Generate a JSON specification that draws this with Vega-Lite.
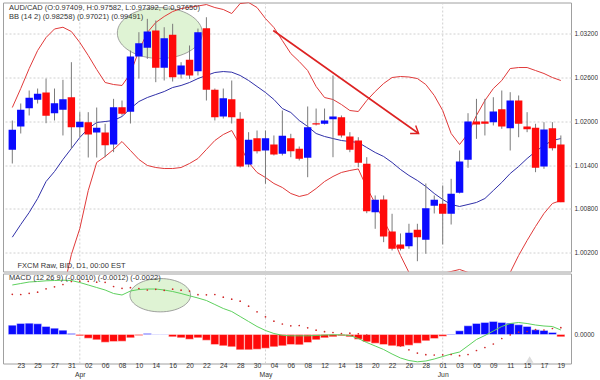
{
"$schema": "https://vega.github.io/schema/vega-lite/v6.json",
"padding": {"left": 2, "top": 1.5, "right": 0, "bottom": 0},
"background": "white",
"spacing": 0,
"config": {
  "view": {"stroke": "#a0a0a0", "strokeWidth": 1},
  "font": "Liberation Sans",
  "axis": {"domain": false, "ticks": false, "labelFont": "Liberation Sans", "labelColor": "#333333", "gridColor": "#d0d0d0", "gridDash": [2, 2], "gridWidth": 1}
},
"datasets": {
"k": [
{"i":0,"o":1.01611,"h":1.02012,"l":1.01423,"c":1.01885,"ub":1.02190,"mb":1.00413,"lb":0.98642,"macd":0.00495,"sig":0.00402,"hist":0.00093},
{"i":1,"o":1.01930,"h":1.02245,"l":1.01834,"c":1.02159,"ub":1.02450,"mb":1.00587,"lb":0.98724,"macd":0.00510,"sig":0.00400,"hist":0.00110},
{"i":2,"o":1.02181,"h":1.02423,"l":1.02081,"c":1.02323,"ub":1.02724,"mb":1.00752,"lb":0.98779,"macd":0.00525,"sig":0.00412,"hist":0.00113},
{"i":3,"o":1.02296,"h":1.02450,"l":1.02245,"c":1.02378,"ub":1.02971,"mb":1.00943,"lb":0.98916,"macd":0.00530,"sig":0.00423,"hist":0.00107},
{"i":4,"o":1.02396,"h":1.02587,"l":1.01975,"c":1.02076,"ub":1.03149,"mb":1.01176,"lb":0.99204,"macd":0.00537,"sig":0.00457,"hist":0.00080},
{"i":5,"o":1.02112,"h":1.02450,"l":1.02012,"c":1.02249,"ub":1.03266,"mb":1.01313,"lb":0.99368,"macd":0.00540,"sig":0.00477,"hist":0.00063},
{"i":6,"o":1.02159,"h":1.02570,"l":1.01807,"c":1.02304,"ub":1.03290,"mb":1.01478,"lb":0.99669,"macd":0.00543,"sig":0.00500,"hist":0.00043},
{"i":7,"o":1.02331,"h":1.02811,"l":1.01624,"c":1.01920,"ub":1.03231,"mb":1.01628,"lb":1.00176,"macd":0.00540,"sig":0.00530,"hist":0.00010},
{"i":8,"o":1.01920,"h":1.02126,"l":1.01783,"c":1.01994,"ub":1.03081,"mb":1.01779,"lb":1.00532,"macd":0.00520,"sig":0.00533,"hist":-0.00013},
{"i":9,"o":1.01989,"h":1.02126,"l":1.01505,"c":1.01820,"ub":1.02903,"mb":1.01902,"lb":1.01053,"macd":0.00495,"sig":0.00532,"hist":-0.00037},
{"i":10,"o":1.01848,"h":1.02190,"l":1.01505,"c":1.01912,"ub":1.02711,"mb":1.01985,"lb":1.01437,"macd":0.00470,"sig":0.00523,"hist":-0.00053},
{"i":11,"o":1.01848,"h":1.01967,"l":1.01509,"c":1.01674,"ub":1.02533,"mb":1.01998,"lb":1.01519,"macd":0.00445,"sig":0.00522,"hist":-0.00077},
{"i":12,"o":1.01683,"h":1.02309,"l":1.01578,"c":1.02194,"ub":1.02505,"mb":1.02012,"lb":1.01615,"macd":0.00410,"sig":0.00480,"hist":-0.00070},
{"i":13,"o":1.02194,"h":1.02286,"l":1.02081,"c":1.02104,"ub":1.02492,"mb":1.02067,"lb":1.01724,"macd":0.00395,"sig":0.00462,"hist":-0.00067},
{"i":14,"o":1.02131,"h":1.02971,"l":1.01971,"c":1.02889,"ub":1.02656,"mb":1.02176,"lb":1.01601,"macd":0.00435,"sig":0.00468,"hist":-0.00033},
{"i":15,"o":1.02889,"h":1.03222,"l":1.02587,"c":1.03071,"ub":1.02971,"mb":1.02272,"lb":1.01478,"macd":0.00450,"sig":0.00460,"hist":-0.00010},
{"i":16,"o":1.03008,"h":1.03405,"l":1.02857,"c":1.03231,"ub":1.03218,"mb":1.02327,"lb":1.01396,"macd":0.00455,"sig":0.00445,"hist":0.00010},
{"i":17,"o":1.03245,"h":1.03382,"l":1.02537,"c":1.02734,"ub":1.03355,"mb":1.02368,"lb":1.01368,"macd":0.00455,"sig":0.00452,"hist":0.00003},
{"i":18,"o":1.02734,"h":1.03290,"l":1.02560,"c":1.03140,"ub":1.03437,"mb":1.02409,"lb":1.01354,"macd":0.00445,"sig":0.00442,"hist":0.00003},
{"i":19,"o":1.03186,"h":1.03337,"l":1.02546,"c":1.02605,"ub":1.03505,"mb":1.02464,"lb":1.01354,"macd":0.00430,"sig":0.00453,"hist":-0.00023},
{"i":20,"o":1.02642,"h":1.02811,"l":1.02587,"c":1.02766,"ub":1.03546,"mb":1.02492,"lb":1.01368,"macd":0.00410,"sig":0.00443,"hist":-0.00033},
{"i":21,"o":1.02844,"h":1.03040,"l":1.02583,"c":1.02629,"ub":1.03564,"mb":1.02533,"lb":1.01423,"macd":0.00387,"sig":0.00434,"hist":-0.00047},
{"i":22,"o":1.02687,"h":1.03272,"l":1.02629,"c":1.03222,"ub":1.03581,"mb":1.02587,"lb":1.01491,"macd":0.00365,"sig":0.00398,"hist":-0.00033},
{"i":23,"o":1.03277,"h":1.03427,"l":1.02286,"c":1.02433,"ub":1.03601,"mb":1.02629,"lb":1.01615,"macd":0.00340,"sig":0.00397,"hist":-0.00057},
{"i":24,"o":1.02433,"h":1.02450,"l":1.02012,"c":1.02057,"ub":1.03560,"mb":1.02670,"lb":1.01738,"macd":0.00300,"sig":0.00400,"hist":-0.00100},
{"i":25,"o":1.02067,"h":1.02450,"l":1.02039,"c":1.02318,"ub":1.03533,"mb":1.02683,"lb":1.01820,"macd":0.00260,"sig":0.00373,"hist":-0.00113},
{"i":26,"o":1.02304,"h":1.02560,"l":1.01971,"c":1.02057,"ub":1.03478,"mb":1.02674,"lb":1.01875,"macd":0.00230,"sig":0.00353,"hist":-0.00123},
{"i":27,"o":1.02035,"h":1.02126,"l":1.01368,"c":1.01382,"ub":1.03615,"mb":1.02629,"lb":1.01670,"macd":0.00180,"sig":0.00333,"hist":-0.00153},
{"i":28,"o":1.01409,"h":1.01852,"l":1.01372,"c":1.01748,"ub":1.03629,"mb":1.02560,"lb":1.01437,"macd":0.00130,"sig":0.00283,"hist":-0.00153},
{"i":29,"o":1.01770,"h":1.01875,"l":1.01560,"c":1.01591,"ub":1.03560,"mb":1.02478,"lb":1.01300,"macd":0.00080,"sig":0.00227,"hist":-0.00147},
{"i":30,"o":1.01601,"h":1.01875,"l":1.01145,"c":1.01770,"ub":1.03409,"mb":1.02396,"lb":1.01231,"macd":0.00040,"sig":0.00177,"hist":-0.00137},
{"i":31,"o":1.01683,"h":1.01807,"l":1.01533,"c":1.01546,"ub":1.03286,"mb":1.02300,"lb":1.01149,"macd":0.00010,"sig":0.00133,"hist":-0.00123},
{"i":32,"o":1.01556,"h":1.02149,"l":1.01533,"c":1.01802,"ub":1.03108,"mb":1.02176,"lb":1.01094,"macd":-0.00008,"sig":0.00105,"hist":-0.00113},
{"i":33,"o":1.01770,"h":1.01830,"l":1.01509,"c":1.01591,"ub":1.02930,"mb":1.02122,"lb":1.01012,"macd":-0.00013,"sig":0.00087,"hist":-0.00100},
{"i":34,"o":1.01624,"h":1.01656,"l":1.01464,"c":1.01487,"ub":1.02820,"mb":1.02012,"lb":1.00971,"macd":-0.00013,"sig":0.00090,"hist":-0.00103},
{"i":35,"o":1.01501,"h":1.02204,"l":1.01235,"c":1.01920,"ub":1.02697,"mb":1.01930,"lb":1.00998,"macd":-0.00013,"sig":0.00067,"hist":-0.00080},
{"i":36,"o":1.01975,"h":1.02176,"l":1.01944,"c":1.01957,"ub":1.02478,"mb":1.01834,"lb":1.01080,"macd":-0.00010,"sig":0.00043,"hist":-0.00053},
{"i":37,"o":1.01967,"h":1.02176,"l":1.01957,"c":1.02012,"ub":1.02327,"mb":1.01793,"lb":1.01176,"macd":-0.00005,"sig":0.00028,"hist":-0.00033},
{"i":38,"o":1.02030,"h":1.02629,"l":1.01509,"c":1.02067,"ub":1.02300,"mb":1.01765,"lb":1.01245,"macd":-0.00003,"sig":0.00020,"hist":-0.00023},
{"i":39,"o":1.02057,"h":1.02081,"l":1.01779,"c":1.01807,"ub":1.02231,"mb":1.01738,"lb":1.01300,"macd":-0.00003,"sig":0.00010,"hist":-0.00013},
{"i":40,"o":1.01793,"h":1.01852,"l":1.01578,"c":1.01611,"ub":1.02149,"mb":1.01724,"lb":1.01327,"macd":-0.00010,"sig":0.00013,"hist":-0.00023},
{"i":41,"o":1.01738,"h":1.01783,"l":1.01372,"c":1.01433,"ub":1.02135,"mb":1.01711,"lb":1.01348,"macd":-0.00040,"sig":0.00007,"hist":-0.00047},
{"i":42,"o":1.01419,"h":1.01509,"l":1.00742,"c":1.00769,"ub":1.02286,"mb":1.01642,"lb":1.01094,"macd":-0.00080,"sig":-0.00007,"hist":-0.00073},
{"i":43,"o":1.00756,"h":1.00985,"l":1.00528,"c":1.00926,"ub":1.02409,"mb":1.01574,"lb":1.00875,"macd":-0.00115,"sig":-0.00028,"hist":-0.00087},
{"i":44,"o":1.00930,"h":1.00985,"l":1.00345,"c":1.00423,"ub":1.02519,"mb":1.01519,"lb":1.00642,"macd":-0.00150,"sig":-0.00050,"hist":-0.00100},
{"i":45,"o":1.00491,"h":1.00734,"l":1.00231,"c":1.00254,"ub":1.02601,"mb":1.01437,"lb":1.00423,"macd":-0.00195,"sig":-0.00082,"hist":-0.00113},
{"i":46,"o":1.00313,"h":1.00464,"l":1.00231,"c":1.00254,"ub":1.02615,"mb":1.01341,"lb":1.00163,"macd":-0.00235,"sig":-0.00115,"hist":-0.00120},
{"i":47,"o":1.00290,"h":1.00597,"l":1.00254,"c":1.00474,"ub":1.02608,"mb":1.01259,"lb":0.99930,"macd":-0.00260,"sig":-0.00153,"hist":-0.00107},
{"i":48,"o":1.00515,"h":1.00597,"l":1.00084,"c":1.00413,"ub":1.02587,"mb":1.01190,"lb":0.99847,"macd":-0.00273,"sig":-0.00186,"hist":-0.00087},
{"i":49,"o":1.00378,"h":1.01149,"l":1.00186,"c":1.00811,"ub":1.02505,"mb":1.01108,"lb":0.99820,"macd":-0.00265,"sig":-0.00202,"hist":-0.00063},
{"i":50,"o":1.00843,"h":1.00985,"l":1.00738,"c":1.00926,"ub":1.02355,"mb":1.01012,"lb":0.99875,"macd":-0.00245,"sig":-0.00205,"hist":-0.00040},
{"i":51,"o":1.00871,"h":1.01122,"l":1.00313,"c":1.00734,"ub":1.02149,"mb":1.00930,"lb":0.99916,"macd":-0.00220,"sig":-0.00203,"hist":-0.00017},
{"i":52,"o":1.00734,"h":1.01213,"l":1.00587,"c":1.01008,"ub":1.01834,"mb":1.00861,"lb":0.99943,"macd":-0.00195,"sig":-0.00200,"hist":0.00005},
{"i":53,"o":1.01022,"h":1.01601,"l":1.01012,"c":1.01450,"ub":1.01683,"mb":1.00834,"lb":0.99971,"macd":-0.00175,"sig":-0.00212,"hist":0.00037},
{"i":54,"o":1.01474,"h":1.02112,"l":1.01364,"c":1.01998,"ub":1.01834,"mb":1.00861,"lb":0.99930,"macd":-0.00113,"sig":-0.00200,"hist":0.00087},
{"i":55,"o":1.01998,"h":1.02309,"l":1.01761,"c":1.01957,"ub":1.02081,"mb":1.00889,"lb":0.99847,"macd":-0.00050,"sig":-0.00160,"hist":0.00110},
{"i":56,"o":1.01998,"h":1.02309,"l":1.01807,"c":1.01967,"ub":1.02286,"mb":1.00943,"lb":0.99752,"macd":-0.00010,"sig":-0.00130,"hist":0.00120},
{"i":57,"o":1.01989,"h":1.02331,"l":1.01944,"c":1.02135,"ub":1.02450,"mb":1.01053,"lb":0.99683,"macd":0.00035,"sig":-0.00095,"hist":0.00130},
{"i":58,"o":1.02167,"h":1.02423,"l":1.01898,"c":1.01930,"ub":1.02560,"mb":1.01163,"lb":0.99752,"macd":0.00080,"sig":-0.00040,"hist":0.00120},
{"i":59,"o":1.01907,"h":1.02400,"l":1.01601,"c":1.02286,"ub":1.02724,"mb":1.01286,"lb":0.99930,"macd":0.00110,"sig":-0.00003,"hist":0.00113},
{"i":60,"o":1.02286,"h":1.02355,"l":1.01783,"c":1.01967,"ub":1.02738,"mb":1.01382,"lb":1.00163,"macd":0.00120,"sig":0.00023,"hist":0.00097},
{"i":61,"o":1.01930,"h":1.02126,"l":1.01852,"c":1.01893,"ub":1.02738,"mb":1.01491,"lb":1.00368,"macd":0.00110,"sig":0.00030,"hist":0.00080},
{"i":62,"o":1.01912,"h":1.01967,"l":1.01304,"c":1.01364,"ub":1.02697,"mb":1.01587,"lb":1.00560,"macd":0.00095,"sig":0.00048,"hist":0.00047},
{"i":63,"o":1.01382,"h":1.01989,"l":1.01350,"c":1.01889,"ub":1.02656,"mb":1.01670,"lb":1.00738,"macd":0.00085,"sig":0.00045,"hist":0.00040},
{"i":64,"o":1.01907,"h":1.01989,"l":1.01601,"c":1.01633,"ub":1.02601,"mb":1.01738,"lb":1.00875,"macd":0.00080,"sig":0.00060,"hist":0.00020},
{"i":65,"o":1.01683,"h":1.01807,"l":1.00893,"c":1.00893,"ub":1.02560,"mb":1.01765,"lb":1.00916,"macd":0.00045,"sig":0.00068,"hist":-0.00023}
],
"months": [{"i": 8}, {"i": 30}, {"i": 51}],
"mainText": [
{"i": -0.39, "p": 1.03560, "t": "AUD/CAD (O:0.97409, H:0.97582, L:0.97392, C:0.97650)"},
{"i": -0.39, "p": 1.03430, "t": "BB (14 2) (0.98258) (0.97021) (0.99491)"},
{"i": 0.62, "p": 1.00016, "t": "FXCM Raw, BID, D1, 00:00 EST"}
],
"arrow": [{"i": 30.92, "p": 1.03245, "i2": 48.15, "p2": 1.01834}]
},
"vconcat": [
{
"width": 568, "height": 269,
"encoding": {"x": {"field": "i", "type": "quantitative", "scale": {"domain": [-0.51, 65.61], "nice": false, "zero": false}, "axis": null}},
"layer": [
{"data": {"name": "months"}, "mark": {"type": "rule", "color": "#d0d0d0", "strokeDash": [2, 2], "strokeWidth": 1}, "encoding": {}},
{"data": {"values": [{"i": 17.48, "p": 1.03211}]}, "mark": {"type": "point", "shape": "M-1,0A1,0.6,0,1,0,1,0A1,0.6,0,1,0,-1,0Z", "size": 7225, "filled": true, "fill": "#dff3d4", "stroke": "#8c8c8c", "strokeWidth": 0.8, "opacity": 1},
 "encoding": {"y": {"field": "p", "type": "quantitative", "title": null, "scale": {"domain": [0.99943, 1.03629], "nice": false, "zero": false}, "axis": {"orient": "right", "values": [1.002, 1.008, 1.014, 1.020, 1.026, 1.032], "format": ".5f", "grid": true, "labelFontSize": 6.5, "labelPadding": 3}}}},
{"data": {"name": "k"}, "mark": {"type": "line", "color": "#e03a3a", "strokeWidth": 1, "clip": true}, "encoding": {"y": {"field": "ub", "type": "quantitative", "title": null}}},
{"data": {"name": "k"}, "mark": {"type": "line", "color": "#e03a3a", "strokeWidth": 1, "clip": true}, "encoding": {"y": {"field": "lb", "type": "quantitative", "title": null}}},
{"data": {"name": "k"}, "mark": {"type": "line", "color": "#3030a8", "strokeWidth": 1, "clip": true}, "encoding": {"y": {"field": "mb", "type": "quantitative", "title": null}}},
{"data": {"name": "k"}, "mark": {"type": "rule", "color": "#7a7a7a", "strokeWidth": 1, "clip": true}, "encoding": {"y": {"field": "l", "type": "quantitative", "title": null}, "y2": {"field": "h"}}},
{"data": {"name": "k"}, "mark": {"type": "bar", "size": 7.4, "orient": "vertical", "clip": true}, "encoding": {"y": {"field": "o", "type": "quantitative", "title": null}, "y2": {"field": "c"}, "color": {"condition": {"test": "datum.c > datum.o", "value": "#0a0aff"}, "value": "#ff0a0a"}}},
{"data": {"name": "arrow"}, "mark": {"type": "rule", "color": "#dd2222", "strokeWidth": 1.6}, "encoding": {"y": {"field": "p", "type": "quantitative", "title": null}, "x2": {"field": "i2"}, "y2": {"field": "p2"}}},
{"data": {"name": "arrow"}, "mark": {"type": "point", "shape": "M-1,-0.7L0,0L-1,0.7", "size": 196, "filled": false, "stroke": "#dd2222", "strokeWidth": 1.4, "angle": 34.8, "opacity": 1}, "encoding": {"x": {"field": "i2", "type": "quantitative"}, "y": {"field": "p2", "type": "quantitative", "title": null}}},
{"data": {"name": "mainText"}, "mark": {"type": "text", "align": "left", "baseline": "middle", "fontSize": 7.5, "color": "#333333"}, "encoding": {"y": {"field": "p", "type": "quantitative", "title": null}, "text": {"field": "t"}}}
]
},
{
"width": 568, "height": 90,
"encoding": {"x": {"field": "i", "type": "quantitative", "scale": {"domain": [-0.51, 65.61], "nice": false, "zero": false},
  "axis": {"orient": "bottom", "values": [1,3,5,7,9,11,13,15,17,19,21,23,25,27,29,31,33,35,37,39,41,43,45,47,49,51,53,55,57,59,61,63,65,8,30], "grid": false, "labelOverlap": false, "labelFlush": false, "labelFontSize": 6.8, "labelPadding": -1, "labelLineHeight": 8.5, "labelBaseline": "top",
  "labelExpr": "datum.value == 8 ? ['', 'Apr'] : datum.value == 30 ? ['', 'May'] : datum.value == 51 ? ['01', 'Jun'] : ['20','23','24','25','26','27','30','31','01','02','03','06','07','08','09','10','13','14','15','16','17','20','21','22','23','24','27','28','29','30','01','04','05','06','07','08','11','12','13','14','15','18','19','20','21','22','25','26','27','28','29','01','02','03','04','05','08','09','10','11','12','15','16','17','18','19'][datum.value]"}}},
"layer": [
{"data": {"name": "months"}, "mark": {"type": "rule", "color": "#d0d0d0", "strokeDash": [2, 2], "strokeWidth": 1}, "encoding": {}},
{"data": {"values": [{"i": 17.53, "v": 0.00393}]}, "mark": {"type": "point", "shape": "M-1,0A1,0.55,0,1,0,1,0A1,0.55,0,1,0,-1,0Z", "size": 3672, "filled": true, "fill": "#dff3d4", "stroke": "#8c8c8c", "strokeWidth": 0.8, "opacity": 1},
 "encoding": {"y": {"field": "v", "type": "quantitative", "title": null, "scale": {"domain": [-0.0029, 0.0061], "nice": false, "zero": false}, "axis": {"orient": "right", "values": [0], "format": ".4f", "grid": false, "labelFontSize": 6.5, "labelPadding": 3}}}},
{"data": {"values": [{"i": 61.3, "v": -0.0025}]}, "mark": {"type": "point", "shape": "triangle-up", "size": 60, "filled": true, "color": "#dcdcdc", "opacity": 1}, "encoding": {"y": {"field": "v", "type": "quantitative", "title": null}}},
{"data": {"name": "k"}, "mark": {"type": "bar", "size": 8, "orient": "vertical", "clip": true, "stroke": "#ffffff", "strokeWidth": 0.4}, "encoding": {"y": {"field": "hist", "type": "quantitative", "title": null}, "y2": {"datum": 0}, "color": {"condition": {"test": "datum.hist >= 0", "value": "#0a0aff"}, "value": "#ff0a0a"}}},
{"data": {"name": "k"}, "mark": {"type": "line", "color": "#5ed05e", "strokeWidth": 1, "clip": true}, "encoding": {"y": {"field": "macd", "type": "quantitative", "title": null}}},
{"data": {"name": "k"}, "mark": {"type": "point", "filled": true, "size": 3, "color": "#d02a2a", "opacity": 1, "clip": true}, "encoding": {"y": {"field": "sig", "type": "quantitative", "title": null}}},
{"data": {"values": [{"i": -0.39, "v": 0.00563, "t": "MACD (12 26 9) (-0.0010) (-0.0012) (-0.0022)"}]}, "mark": {"type": "text", "align": "left", "baseline": "middle", "fontSize": 7.5, "color": "#333333"}, "encoding": {"y": {"field": "v", "type": "quantitative", "title": null}, "text": {"field": "t"}}}
]
}
]
}
